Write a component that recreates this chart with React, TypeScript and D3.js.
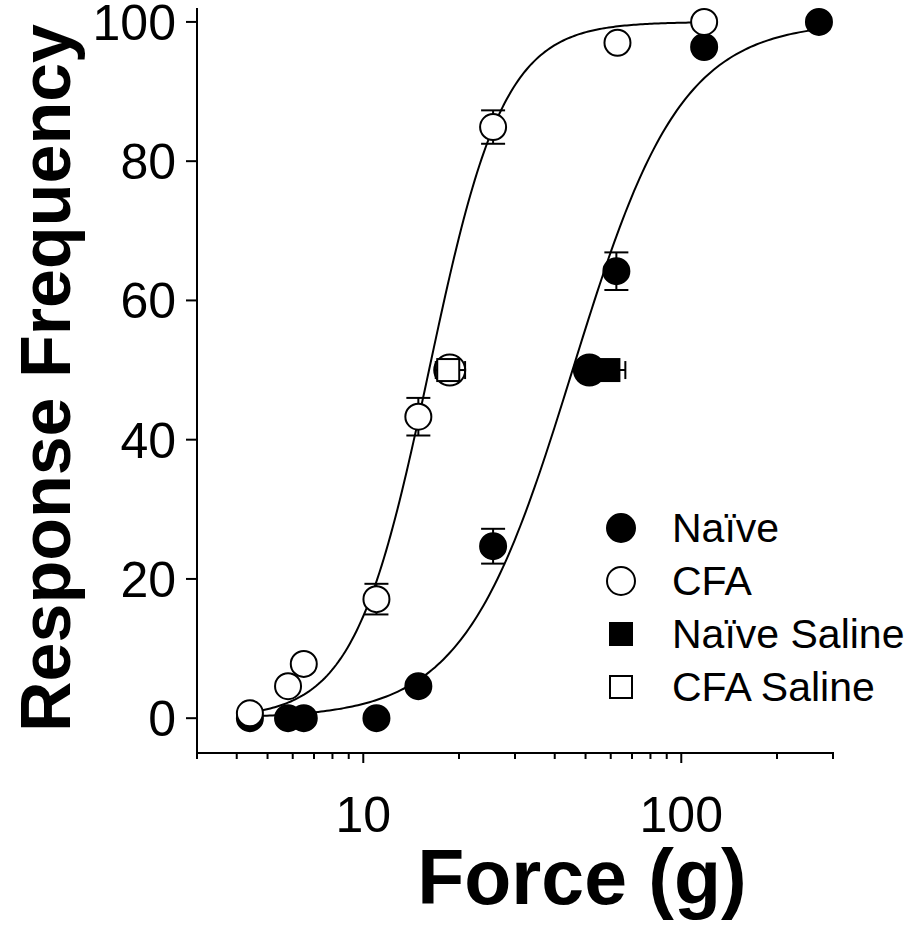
import * as d3 from 'd3';

// von Frey force (g) vs response frequency (%)
const naiveForce = [4.4, 5.8, 6.5, 11.0, 14.9, 25.6, 62.5, 118, 271];
const naiveResp = [0, 0, 0, 0, 4.6, 24.7, 64.2, 96.4, 100];
const naiveErr = [0, 0, 0, 0, 0, 2.5, 2.7, 0, 0];

const cfaForce = [4.4, 5.8, 6.5, 11.0, 14.9, 25.6, 63, 118];
const cfaResp = [0.7, 4.6, 7.8, 17.1, 43.3, 84.9, 97, 100];
const cfaErr = [0, 0, 0, 2.2, 2.7, 2.4, 0, 0];

// ED50 points (large circles) and saline ED50 with horizontal SEM
const ed50Force = [51.4, 18.7];
const salineForce = [59, 18.5];
const salineLo = [52, 16.9];
const salineHi = [66.7, 20.9];

// sigmoid fits: [EC50, hill slope, x start, x end]
const naiveFit = [45.5, 2.55, 4.4, 271];
const cfaFit = [16.1, 3.7, 4.4, 118];

const yTicks = [0, 20, 40, 60, 80, 100];
const xMinor = [3, 4, 5, 6, 7, 8, 9, 20, 30, 40, 50, 60, 70, 80, 90, 200, 300];
const xMajor = [10, 100];
const legendLabels = ['Naïve', 'CFA', 'Naïve Saline', 'CFA Saline'];

const FONT = '"Liberation Sans", Arial, sans-serif';

export default function App() {
  const x = d3.scaleLog().domain([3, 300]).range([197, 833]);
  const y = d3.scaleLinear().domain([-5, 102]).range([753, 8]);

  const fitPath = (fit: number[]) => {
    const [ec50, h, x0, x1] = fit;
    const xs = d3.range(0, 201).map((i) => Math.pow(10, Math.log10(x0) + (i / 200) * (Math.log10(x1) - Math.log10(x0))));
    const line = d3.line<number>().x((d) => x(d)).y((d) => y(100 / (1 + Math.pow(ec50 / d, h))));
    return line(xs) || '';
  };

  const errBars = (xs: number[], ys: number[], es: number[]) =>
    xs.map((xv, i) =>
      es[i] > 0 ? (
        <g key={i} stroke="#000" strokeWidth={2}>
          <line x1={x(xv)} x2={x(xv)} y1={y(ys[i] - es[i])} y2={y(ys[i] + es[i])} />
          <line x1={x(xv) - 12} x2={x(xv) + 12} y1={y(ys[i] + es[i])} y2={y(ys[i] + es[i])} />
          <line x1={x(xv) - 12} x2={x(xv) + 12} y1={y(ys[i] - es[i])} y2={y(ys[i] - es[i])} />
        </g>
      ) : null
    );

  const legendY = [528, 581, 634, 687];

  return (
    <svg width={911} height={937} style={{ position: 'absolute', left: 0, top: 0, background: '#fff' }}>
      {/* axes */}
      <g stroke="#000" strokeWidth={2}>
        <line x1={197} x2={197} y1={8} y2={754} />
        <line x1={196} x2={834} y1={753} y2={753} />
        {yTicks.map((t) => (
          <line key={t} x1={186} x2={197} y1={y(t)} y2={y(t)} />
        ))}
        {xMinor.map((t) => (
          <line key={t} x1={x(t)} x2={x(t)} y1={753} y2={759} />
        ))}
        {xMajor.map((t) => (
          <line key={t} x1={x(t)} x2={x(t)} y1={753} y2={763} />
        ))}
      </g>
      <g fontFamily={FONT} fontSize={50} fill="#000">
        {yTicks.map((t) => (
          <text key={t} x={176} y={y(t) + 1} textAnchor="end" dominantBaseline="central">
            {t}
          </text>
        ))}
        {xMajor.map((t) => (
          <text key={t} x={x(t)} y={832} textAnchor="middle">
            {t}
          </text>
        ))}
      </g>
      <text
        transform="translate(70,378) rotate(-90)"
        textAnchor="middle"
        fontFamily={FONT}
        fontWeight="bold"
        fontSize={70}
      >
        Response Frequency
      </text>
      <text x={582} y={904} textAnchor="middle" fontFamily={FONT} fontWeight="bold" fontSize={77}>
        Force (g)
      </text>

      {/* fits */}
      <path d={fitPath(naiveFit)} fill="none" stroke="#000" strokeWidth={2} />
      <path d={fitPath(cfaFit)} fill="none" stroke="#000" strokeWidth={2} />

      {/* ED50 circles and saline squares */}
      <circle cx={x(ed50Force[0])} cy={y(50)} r={15.5} fill="#000" stroke="#000" strokeWidth={2} />
      <circle cx={x(ed50Force[1])} cy={y(50)} r={15.5} fill="#fff" stroke="#000" strokeWidth={2} />
      {salineForce.map((s, i) => (
        <g key={i} stroke="#000" strokeWidth={2}>
          <line x1={x(salineLo[i])} x2={x(salineHi[i])} y1={y(50)} y2={y(50)} />
          <line x1={x(salineLo[i])} x2={x(salineLo[i])} y1={y(50) - 9} y2={y(50) + 9} />
          <line x1={x(salineHi[i])} x2={x(salineHi[i])} y1={y(50) - 9} y2={y(50) + 9} />
          <rect x={x(s) - 11} y={y(50) - 11} width={22} height={22} fill={i === 0 ? '#000' : '#fff'} />
        </g>
      ))}

      {/* naive */}
      {errBars(naiveForce, naiveResp, naiveErr)}
      {naiveForce.map((f, i) => (
        <circle key={i} cx={x(f)} cy={y(naiveResp[i])} r={13} fill="#000" stroke="#000" strokeWidth={2} />
      ))}
      {/* CFA */}
      {errBars(cfaForce, cfaResp, cfaErr)}
      {cfaForce.map((f, i) => (
        <circle key={i} cx={x(f)} cy={y(cfaResp[i])} r={13} fill="#fff" stroke="#000" strokeWidth={2} />
      ))}

      {/* legend */}
      <g stroke="#000" strokeWidth={2}>
        <circle cx={621} cy={legendY[0]} r={14} fill="#000" />
        <circle cx={621} cy={legendY[1]} r={14} fill="#fff" />
        <rect x={610} y={legendY[2] - 11} width={22} height={22} fill="#000" />
        <rect x={610} y={legendY[3] - 11} width={22} height={22} fill="#fff" />
      </g>
      <g fontFamily={FONT} fontSize={41} fill="#000">
        {legendLabels.map((l, i) => (
          <text key={l} x={672} y={legendY[i]} dominantBaseline="central">
            {l}
          </text>
        ))}
      </g>
    </svg>
  );
}
